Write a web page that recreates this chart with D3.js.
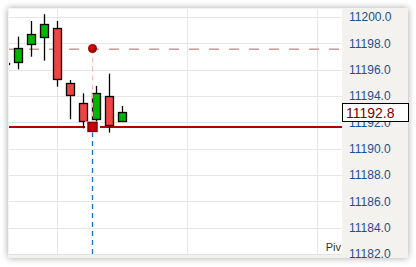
<!DOCTYPE html>
<html>
<head>
<meta charset="utf-8">
<script src="https://cdn.jsdelivr.net/npm/d3@7"></script>
<style>
  body { margin: 0; background: #fff; }
  svg { display: block; font-family: "Liberation Sans", Arial, sans-serif; }
</style>
</head>
<body>
<div id="chart"></div>
<script>
// velas (indice, apertura, maximo, minimo, cierre)
const candleIndex = [0, 1, 2, 3, 4, 5, 6, 7, 8, 9];
const openPrices  = [11196.5, 11196.56, 11197.97, 11198.50, 11199.14, 11194.96, 11193.44, 11192.23, 11193.97, 11192.05];
const highPrices  = [11196.6, 11198.50, 11199.69, 11200.20, 11199.69, 11195.21, 11194.20, 11194.76, 11195.69, 11193.24];
const lowPrices   = [11196.4, 11196.02, 11196.98, 11196.68, 11194.70, 11192.23, 11191.54, 11191.72, 11191.21, 11192.05];
const closePrices = [11196.5, 11197.62, 11198.70, 11199.46, 11195.27, 11194.02, 11192.05, 11194.20, 11191.74, 11192.75];

const yTicks = [11182, 11184, 11186, 11188, 11190, 11192, 11194, 11196, 11198, 11200];
const xGridIndex = [4, 14, 24];

// niveles del pivote
const pivotIndex = 6.7;
const pivotHigh = 11197.6;
const pivotLow = 11191.65;
const lastPrice = closePrices[closePrices.length - 1];

const width = 416;
const height = 267;
const panel = { left: 8, top: 8, right: 408, bottom: 258 };
const plot = { left: 9, top: 9, right: 342, bottom: 254 };

const svg = d3.select("#chart")
  .append("svg")
  .attr("width", width)
  .attr("height", height);

const defs = svg.append("defs");
const shadow = defs.append("filter").attr("id", "shadow")
  .attr("x", "-10%").attr("y", "-10%").attr("width", "120%").attr("height", "120%");
shadow.append("feDropShadow")
  .attr("dx", 0).attr("dy", 0).attr("stdDeviation", 3.5)
  .attr("flood-color", "#000").attr("flood-opacity", 0.35);

defs.append("clipPath").attr("id", "plotClip")
  .append("rect")
  .attr("x", plot.left).attr("y", plot.top)
  .attr("width", plot.right - plot.left).attr("height", plot.bottom - plot.top);

const grad = defs.append("radialGradient").attr("id", "dot").attr("cx", "40%").attr("cy", "40%");
grad.append("stop").attr("offset", "0%").attr("stop-color", "#e01010");
grad.append("stop").attr("offset", "100%").attr("stop-color", "#9a0000");

// marco con sombra
svg.append("rect")
  .attr("x", panel.left).attr("y", panel.top)
  .attr("width", panel.right - panel.left).attr("height", panel.bottom - panel.top)
  .attr("fill", "#f3f2ee")
  .attr("filter", "url(#shadow)");

svg.append("rect")
  .attr("x", plot.left).attr("y", plot.top)
  .attr("width", plot.right - plot.left).attr("height", plot.bottom - plot.top)
  .attr("fill", "#fff");

svg.append("line")
  .attr("x1", plot.left).attr("x2", plot.right)
  .attr("y1", plot.bottom + 0.5).attr("y2", plot.bottom + 0.5)
  .attr("stroke", "#e2e2e2");

const xScale = d3.scaleLinear()
  .domain([0.285, 25.9])
  .range([plot.left, plot.right]);

const yScale = d3.scaleLinear()
  .domain([11182, 11200.6])
  .range([plot.bottom, plot.top]);

const px = (v) => Math.round(v) + 0.5;

// cuadricula
const grid = svg.append("g").attr("clip-path", "url(#plotClip)");
grid.selectAll("line.h")
  .data(yTicks)
  .enter()
  .append("line")
  .attr("x1", plot.left).attr("x2", plot.right)
  .attr("y1", (d) => px(yScale(d))).attr("y2", (d) => px(yScale(d)))
  .attr("stroke", "#e6e6e6");

grid.selectAll("line.v")
  .data(xGridIndex)
  .enter()
  .append("line")
  .attr("x1", (d) => px(xScale(d))).attr("x2", (d) => px(xScale(d)))
  .attr("y1", plot.top).attr("y2", plot.bottom)
  .attr("stroke", "#e6e6e6");

const chart = svg.append("g").attr("clip-path", "url(#plotClip)");

// linea discontinua del maximo del pivote
chart.append("line")
  .attr("x1", plot.left).attr("x2", plot.right)
  .attr("y1", Math.round(yScale(pivotHigh)) - 0.5).attr("y2", Math.round(yScale(pivotHigh)) - 0.5)
  .attr("stroke", "#f4c4c4")
  .attr("stroke-dasharray", "10,10");
chart.append("line")
  .attr("x1", plot.left).attr("x2", plot.right)
  .attr("y1", Math.round(yScale(pivotHigh)) + 0.5).attr("y2", Math.round(yScale(pivotHigh)) + 0.5)
  .attr("stroke", "#a8a8a8")
  .attr("stroke-dasharray", "10,10");

// linea del minimo del pivote
chart.append("line")
  .attr("x1", plot.left).attr("x2", plot.right)
  .attr("y1", yScale(pivotLow)).attr("y2", yScale(pivotLow))
  .attr("stroke", "#b00000")
  .attr("stroke-width", 2);

// velas
const candles = candleIndex.map((i) => ({
  i, open: openPrices[i], high: highPrices[i], low: lowPrices[i], close: closePrices[i],
}));

chart.selectAll("line.wick")
  .data(candles)
  .enter()
  .append("line")
  .attr("x1", (d) => px(xScale(d.i))).attr("x2", (d) => px(xScale(d.i)))
  .attr("y1", (d) => yScale(d.high)).attr("y2", (d) => yScale(d.low))
  .attr("stroke", "#000")
  .attr("stroke-width", 1.3);

chart.selectAll("rect.body")
  .data(candles)
  .enter()
  .append("rect")
  .attr("x", (d) => Math.round(xScale(d.i)) - 4 + 0.5)
  .attr("y", (d) => Math.round(yScale(Math.max(d.open, d.close))) + 0.5)
  .attr("width", 8)
  .attr("height", (d) => Math.max(1, Math.round(Math.abs(yScale(d.open) - yScale(d.close)))))
  .attr("fill", (d) => (d.close >= d.open ? "#00b400" : "#ef4444"))
  .attr("stroke", "#000")
  .attr("stroke-width", 1.3);

// marcadores del pivote
const mx = px(xScale(pivotIndex));
chart.append("line")
  .attr("x1", mx).attr("x2", mx)
  .attr("y1", yScale(pivotHigh)).attr("y2", yScale(pivotLow))
  .attr("stroke", "#f6b8b8")
  .attr("stroke-dasharray", "5,4");

chart.append("line")
  .attr("x1", mx).attr("x2", mx)
  .attr("y1", yScale(pivotLow) + 5).attr("y2", plot.bottom)
  .attr("stroke", "#1a6fd6")
  .attr("stroke-width", 1.3)
  .attr("stroke-dasharray", "5,4");

chart.append("rect")
  .attr("x", mx - 7.5).attr("y", yScale(pivotLow) - 5.5)
  .attr("width", 15).attr("height", 11)
  .attr("fill", "#fff");

chart.append("rect")
  .attr("x", mx - 4.5).attr("y", yScale(pivotLow) - 4.5)
  .attr("width", 9).attr("height", 9)
  .attr("fill", "#c8000c")
  .attr("stroke", "#8a0000")
  .attr("stroke-width", 1.5);

chart.append("circle")
  .attr("cx", mx).attr("cy", yScale(pivotHigh))
  .attr("r", 4.5)
  .attr("fill", "url(#dot)");

chart.append("text")
  .attr("x", plot.right - 1)
  .attr("y", plot.bottom - 3)
  .attr("text-anchor", "end")
  .attr("fill", "#333")
  .style("font-size", "11px")
  .text("Piv");

// eje de precios
svg.append("g")
  .selectAll("text")
  .data(yTicks)
  .enter()
  .append("text")
  .attr("x", 349)
  .attr("y", (d) => yScale(d))
  .attr("dy", "0.36em")
  .attr("fill", "#1f4f8f")
  .style("font-size", "12px")
  .text((d) => d.toFixed(1));

const ly = Math.round(yScale(lastPrice));
svg.append("rect")
  .attr("x", plot.right + 0.5).attr("y", ly - 8.5)
  .attr("width", 66).attr("height", 18)
  .attr("fill", "#fff")
  .attr("stroke", "#000");

svg.append("text")
  .attr("x", 346)
  .attr("y", ly + 0.5)
  .attr("dy", "0.36em")
  .attr("fill", "#7a0000")
  .style("font-size", "14px")
  .text(lastPrice.toFixed(1));
</script>
</body>
</html>
